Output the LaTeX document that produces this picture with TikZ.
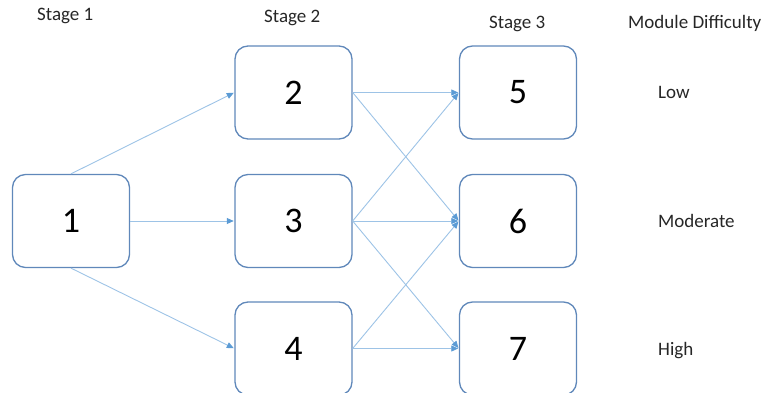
\documentclass[tikz,border=0pt]{standalone}
\usepackage{fontspec}
\setmainfont{Carlito}
\usetikzlibrary{arrows.meta}
\definecolor{boxline}{RGB}{96,136,186}
\definecolor{linkline}{RGB}{157,195,230}
\definecolor{tipblue}{RGB}{91,155,213}
\tikzset{
  module/.style={draw=boxline, line width=1.3pt, fill=white, rounded corners=13pt,
    minimum width=117pt, minimum height=93pt, inner sep=0pt,
    font=\fontsize{36}{40}\selectfont},
  link/.style={draw=linkline, line width=0.9pt,
    -{Triangle[length=7pt,width=6pt,color=tipblue]}, shorten >=0.6pt},
  caption/.style={anchor=base west, inner sep=0pt, text=black!85,
    font=\fontsize{19}{22}\selectfont}
}
\begin{document}
\begin{tikzpicture}[x=1pt,y=-1pt]
  \useasboundingbox (0,0) rectangle (771,393);
  \clip (0,0) rectangle (771,393);

  % column headings
  \node[caption] (h1) at (37,21) {Stage 1};
  \node[caption] (h2) at (264,23) {Stage 2};
  \node[caption] (h3) at (489,29) {Stage 3};
  \node[caption] (h4) at (628,29) {Module Difficulty};

  % difficulty levels
  \node[caption] (low) at (658,99) {Low};
  \node[caption] (mod) at (658,227) {Moderate};
  \node[caption] (high) at (658,355) {High};

  % modules
  \node[module] (n1) at (71,221) {1};
  \node[module] (n2) at (293.5,92.5) {2};
  \node[module] (n3) at (293.5,221) {3};
  \node[module] (n4) at (293.5,348.5) {4};
  \node[module] (n5) at (518,92.5) {5};
  \node[module] (n6) at (518,221) {6};
  \node[module] (n7) at (518,348.5) {7};

  % routing from stage 1 to stage 2
  \draw[link] (n1.north) -- (n2.west);
  \draw[link] (n1.east) -- (n3.west);
  \draw[link] (n1.south) -- (n4.west);

  % routing from stage 2 to stage 3
  \draw[link] (n2.east) -- (n5.west);
  \draw[link] (n2.east) -- (n6.west);
  \draw[link] (n3.east) -- (n5.west);
  \draw[link] (n3.east) -- (n6.west);
  \draw[link] (n3.east) -- (n7.west);
  \draw[link] (n4.east) -- (n6.west);
  \draw[link] (n4.east) -- (n7.west);
\end{tikzpicture}
\end{document}
